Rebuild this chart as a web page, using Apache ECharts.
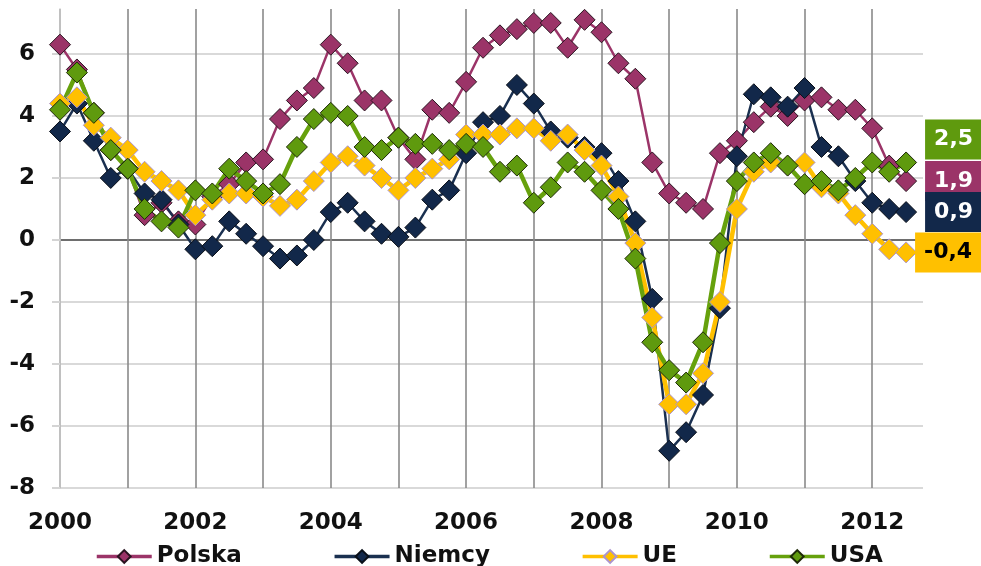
<!DOCTYPE html>
<html>
<head>
<meta charset="utf-8">
<script src="https://cdn.jsdelivr.net/npm/echarts@6/dist/echarts.min.js"></script>
<style>
  html, body { margin: 0; padding: 0; background: #ffffff; }
  #chart { width: 981px; height: 566px; }
</style>
</head>
<body>
<div id="chart"></div>
<script>
// GDP growth, % y/y, quarterly from 2000 Q1 to 2012 Q3
const firstYear = 2000;
const yearGrid = [2000, 2001, 2002, 2003, 2004, 2005, 2006, 2007, 2008, 2009, 2010, 2011, 2012];
const yearLabels = [2000, 2002, 2004, 2006, 2008, 2010, 2012];
const valueTicks = [-8, -6, -4, -2, 0, 2, 4, 6];

const polska = [
  6.3, 5.5, 4.1, 2.9, 2.3, 0.8, 1.2, 0.6, 0.5, 1.4, 1.8, 2.5, 2.6,
  3.9, 4.5, 4.9, 6.3, 5.7, 4.5, 4.5, 3.3, 2.6, 4.2, 4.1, 5.1, 6.2,
  6.6, 6.8, 7.0, 7.0, 6.2, 7.1, 6.7, 5.7, 5.2, 2.5, 1.5, 1.2, 1.0,
  2.8, 3.2, 3.8, 4.3, 4.0, 4.5, 4.6, 4.2, 4.2, 3.6, 2.4, 1.9
];
const niemcy = [
  3.5, 4.4, 3.2, 2.0, 2.3, 1.5, 1.3, 0.5, -0.3, -0.2, 0.6, 0.2, -0.2,
  -0.6, -0.5, 0.0, 0.9, 1.2, 0.6, 0.2, 0.1, 0.4, 1.3, 1.6, 2.8, 3.8,
  4.0, 5.0, 4.4, 3.5, 3.3, 3.0, 2.8, 1.9, 0.6, -1.9, -6.8, -6.2, -5.0,
  -2.2, 2.7, 4.7, 4.6, 4.3, 4.9, 3.0, 2.7, 1.9, 1.2, 1.0, 0.9
];
const ue = [
  4.4, 4.6, 3.7, 3.3, 2.9, 2.2, 1.9, 1.6, 0.8, 1.3, 1.5, 1.5, 1.4,
  1.1, 1.3, 1.9, 2.5, 2.7, 2.4, 2.0, 1.6, 2.0, 2.3, 2.6, 3.4, 3.4,
  3.4, 3.6, 3.6, 3.2, 3.4, 2.9, 2.4, 1.4, -0.1, -2.5, -5.3, -5.3, -4.3,
  -2.0, 1.0, 2.2, 2.5, 2.4, 2.5, 1.7, 1.5, 0.8, 0.2, -0.3, -0.4
];
const usa = [
  4.2, 5.4, 4.1, 2.9, 2.3, 1.0, 0.6, 0.4, 1.6, 1.5, 2.3, 1.9, 1.5,
  1.8, 3.0, 3.9, 4.1, 4.0, 3.0, 2.9, 3.3, 3.1, 3.1, 2.9, 3.1, 3.0,
  2.2, 2.4, 1.2, 1.7, 2.5, 2.2, 1.6, 1.0, -0.6, -3.3, -4.2, -4.6, -3.3,
  -0.1, 1.9, 2.5, 2.8, 2.4, 1.8, 1.9, 1.6, 2.0, 2.5, 2.2, 2.5
];

const FONT = 'DejaVu Sans';

// quarter n of the sample sits at firstYear + n/4 on the time axis
function toPoints(values) {
  return values.map(function (v, n) { return [firstYear + n / 4, v]; });
}
function decimalComma(v) {
  return v.toFixed(1).replace('.', ',');
}

function makeSeries(name, values, cfg) {
  return {
    name: name,
    type: 'line',
    data: toPoints(values),
    symbol: 'diamond',
    symbolSize: 21,
    showAllSymbol: true,
    clip: false,
    lineStyle: { color: cfg.line, width: cfg.width },
    itemStyle: { color: cfg.fill, borderColor: cfg.border, borderWidth: 1 },
    emphasis: { disabled: true },
    endLabel: {
      show: true,
      formatter: function (p) { return decimalComma(p.value[1]); },
      distance: 0,
      offset: cfg.labelOffset,
      color: cfg.labelText,
      backgroundColor: cfg.fill,
      padding: [8, 9, 8, 9],
      lineHeight: 24,
      fontFamily: FONT,
      fontWeight: 'bold',
      fontSize: 22
    }
  };
}

const chart = echarts.init(document.getElementById('chart'));
chart.setOption({
  animation: false,
  backgroundColor: '#ffffff',
  textStyle: { fontFamily: FONT },
  grid: { left: 60, right: 58, top: 9, bottom: 78, containLabel: false },
  legend: {
    left: 90,
    top: 540,
    itemGap: 91,
    itemWidth: 55,
    itemHeight: 16,
    lineStyle: { width: 3.5 },
    textStyle: { fontFamily: FONT, fontWeight: 'bold', fontSize: 23, color: '#111111' },
    data: ['Polska', 'Niemcy', 'UE', 'USA']
  },
  xAxis: {
    type: 'value',
    min: firstYear,
    max: firstYear + 51 / 4,
    axisLine: { show: false },
    axisTick: { show: false, customValues: yearGrid },
    splitLine: { show: true, lineStyle: { color: '#8a8a8a', width: 1.6 } },
    axisLabel: {
      customValues: yearLabels,
      formatter: function (v) { return String(v); },
      margin: 24,
      fontFamily: FONT,
      fontWeight: 'bold',
      fontSize: 23,
      color: '#111111'
    }
  },
  yAxis: {
    type: 'value',
    min: -8,
    max: 7.45,
    axisLine: { show: true, lineStyle: { color: '#c8c8c8', width: 1.6 } },
    axisTick: { show: true, length: 8, customValues: valueTicks, lineStyle: { color: '#d4d4d4', width: 2 } },
    splitLine: {
      show: true,
      lineStyle: {
        color: ['#d9d9d9', '#d9d9d9', '#d9d9d9', '#d9d9d9', '#6e6e6e', '#d9d9d9', '#d9d9d9', '#d9d9d9'],
        width: 2
      }
    },
    axisLabel: {
      customValues: valueTicks,
      margin: 25,
      fontFamily: FONT,
      fontWeight: 'bold',
      fontSize: 23,
      color: '#111111'
    }
  },
  series: [
    makeSeries('Polska', polska, {
      line: '#9b3468', width: 2.5, fill: '#9b3468', border: '#2a1420',
      labelText: '#ffffff', labelOffset: [19, 0]
    }),
    makeSeries('Niemcy', niemcy, {
      line: '#1a3050', width: 2.5, fill: '#12284a', border: '#0a0f18',
      labelText: '#ffffff', labelOffset: [19, 0]
    }),
    makeSeries('UE', ue, {
      line: '#ffc000', width: 4.5, fill: '#ffc000', border: '#ab94cf',
      labelText: '#000000', labelOffset: [9, 0]
    }),
    makeSeries('USA', usa, {
      line: '#66a10c', width: 4.5, fill: '#5f9a0e', border: '#1e2a08',
      labelText: '#ffffff', labelOffset: [19, -23]
    })
  ]
});
</script>
</body>
</html>
